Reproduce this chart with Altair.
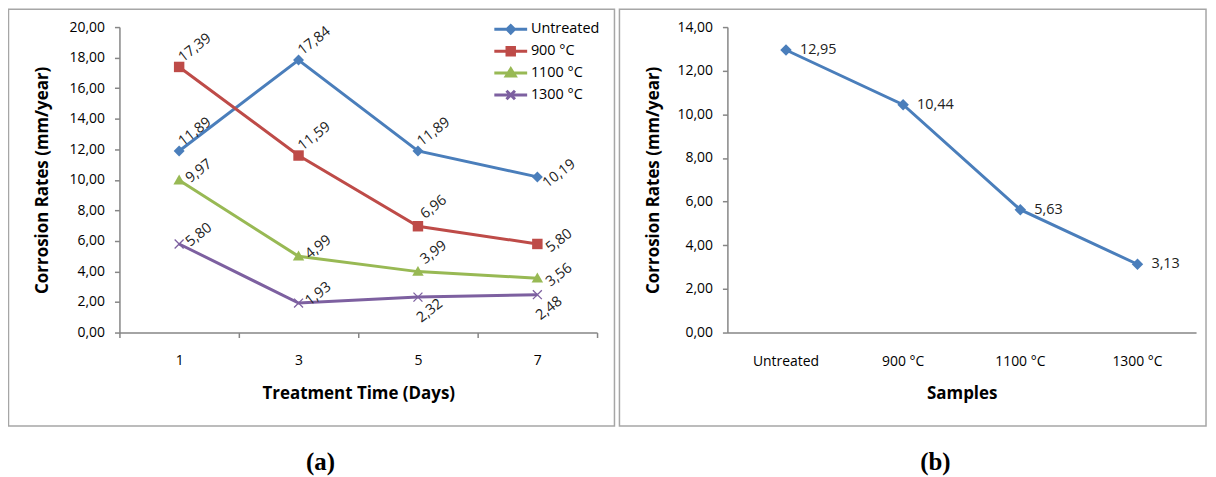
import altair as alt
import pandas as pd

# ---------------- data ----------------
days = ["1", "3", "5", "7"]
series = ["Untreated", "900 °C", "1100 °C", "1300 °C"]
untreated = [11.89, 17.84, 11.89, 10.19]
t900 = [17.39, 11.59, 6.96, 5.80]
t1100 = [9.97, 4.99, 3.99, 3.56]
t1300 = [5.80, 1.93, 2.32, 2.48]

samples = ["Untreated", "900 °C", "1100 °C", "1300 °C"]
avg_rates = [12.95, 10.44, 5.63, 3.13]

y_ticks_a = [0, 2, 4, 6, 8, 10, 12, 14, 16, 18, 20]
y_ticks_b = [0, 2, 4, 6, 8, 10, 12, 14]
captions = ["(a)", "(b)"]

colors = ["#4A7EBB", "#BE4B48", "#98B954", "#7D60A0"]
FONT = "Open Sans"

rows = []
for s, vals in zip(series, [untreated, t900, t1100, t1300]):
    for d, v in zip(days, vals):
        rows.append({"series": s, "day": d, "v": v})
df_a = pd.DataFrame(rows)
df_b = pd.DataFrame({"sample": samples, "v": avg_rates})

# marker shapes (unit coords, scaled by sqrt(size)/2)
m_diamond = "M0,-1.1L1.1,0L0,1.1L-1.1,0Z"
m_square = "M-1.05,-1.05L1.05,-1.05L1.05,1.05L-1.05,1.05Z"
m_triangle = "M0,-1.15L1.15,0.85L-1.15,0.85Z"
m_x = "M-0.9,-0.9L0.9,0.9M-0.9,0.9L0.9,-0.9"
markers = [m_diamond, m_square, m_triangle, m_x]

# legend shapes: line segment + small marker
l_diamond = "M-3.3,0L3.3,0M0,-0.75L0.75,0L0,0.75L-0.75,0Z"
l_square = "M-3.3,0L3.3,0M-0.75,-0.75L0.75,-0.75L0.75,0.75L-0.75,0.75Z"
l_triangle = "M-3.3,0L3.3,0M0,-0.85L0.9,0.6L-0.9,0.6Z"
l_x = "M-3.3,0L3.3,0M-0.85,-0.85L0.85,0.85M-0.85,0.85L0.85,-0.85"
leg_paths = [l_diamond, l_square, l_triangle, l_x]


def case_expr(values):
    expr = "'" + values[-1] + "'"
    for s, p in reversed(list(zip(series[:-1], values[:-1]))):
        expr = "datum.value === '" + s + "' ? '" + p + "' : " + expr
    return expr


label_fmt = "replace(format(datum.value, '.2f'), '.', ',')"

W_A, W_B, H = 480, 471, 307

color_scale = alt.Scale(domain=series, range=colors)
color_enc = alt.Color(
    "series:N",
    scale=color_scale,
    legend=alt.Legend(
        title=None,
        orient="none",
        legendX=386,
        legendY=-5,
        padding=0,
        symbolSize=100,
        symbolType={"expr": case_expr(leg_paths)},
        symbolFillColor={"expr": case_expr(colors)},
        symbolStrokeColor={"expr": case_expr(colors)},
        symbolStrokeWidth=3,
        symbolOpacity=1,
        labelOffset=13,
        rowPadding=2,
        labelFont=FONT,
        labelFontSize=14.5,
        labelColor="#000000",
    ),
)

x_a = alt.X(
    "day:N",
    sort=days,
    scale=alt.Scale(type="band", paddingInner=0, paddingOuter=0),
    axis=alt.Axis(
        title="Treatment Time (Days)",
        labelAngle=0,
        tickBand="extent",
        tickSize=5,
        labelPadding=23,
        labelBaseline="middle",
        titleX=240,
        titleY=61,
        titleBaseline="middle",
        titleAlign="center",
    ),
)
y_a = alt.Y(
    "v:Q",
    scale=alt.Scale(domain=[0, 20], nice=False),
    axis=alt.Axis(
        values=y_ticks_a,
        labelExpr=label_fmt,
        title="Corrosion Rates (mm/year)",
        titleX=-77,
        titleY=153.5,
        titleAngle=270,
        titleAlign="center",
        titleBaseline="middle",
        tickSize=5,
        labelPadding=10,
    ),
)

base_a = alt.Chart(df_a)
line_a = base_a.mark_line(strokeWidth=3).encode(x=x_a, y=y_a, color=color_enc)

point_layers = []
for i, s in enumerate(series):
    filled = i < 3
    point_layers.append(
        base_a.transform_filter(alt.datum.series == s)
        .mark_point(
            shape=markers[i],
            filled=filled,
            size=100,
            opacity=1,
            strokeWidth=1.3,
        )
        .encode(x=x_a, y=y_a, color=alt.Color("series:N", scale=color_scale))
    )

lbl_base = base_a.transform_calculate(lbl="replace(format(datum.v, '.2f'), '.', ',')")
is_right = "(datum.day === '7' && datum.series !== '1300 °C')"
is_below = "(datum.series === '1300 °C' && (datum.day === '5' || datum.day === '7'))"
is_low = "((datum.series === '1100 °C' || datum.series === '1300 °C') && (datum.day === '1' || datum.day === '3'))"
is_default = "!(" + is_right + " || " + is_below + " || " + is_low + ")"


def label_layer(cond, xo, yo):
    return lbl_base.transform_filter(cond).mark_text(
        angle=322,
        align="center",
        baseline="middle",
        font=FONT,
        fontSize=14.5,
        color="#222222",
        xOffset=xo,
        yOffset=yo,
    ).encode(x=x_a, y=y_a, text="lbl:N")


labels_a = [
    label_layer(is_default, 16, -19),
    label_layer(is_low, 20, -9),
    label_layer(is_right, 22, -3),
    label_layer(is_below, 12, 14),
]

one = pd.DataFrame({"k": [0]})
border_a = alt.Chart(one).mark_rect(
    fillOpacity=0, stroke="#A6A6A6", strokeWidth=1.5
).encode(x=alt.value(-111.5), x2=alt.value(497.5), y=alt.value(-18), y2=alt.value(401))
cap_a = alt.Chart(one).mark_text(
    font="Liberation Serif", fontWeight="bold", fontSize=25, color="#000000"
).encode(x=alt.value(202), y=alt.value(437), text=alt.value(captions[0]))

panel_a = alt.layer(border_a, line_a, *point_layers, *labels_a, cap_a).properties(
    width=W_A, height=H
)

# ---------------- panel b ----------------
x_b = alt.X(
    "sample:N",
    sort=samples,
    scale=alt.Scale(type="band", paddingInner=0, paddingOuter=0),
    axis=alt.Axis(
        title="Samples",
        labelAngle=0,
        ticks=False,
        tickSize=0,
        labelPadding=29,
        labelBaseline="middle",
        titleX=235.5,
        titleY=61,
        titleBaseline="middle",
        titleAlign="center",
    ),
)
y_b = alt.Y(
    "v:Q",
    scale=alt.Scale(domain=[0, 14], nice=False),
    axis=alt.Axis(
        values=y_ticks_b,
        labelExpr=label_fmt,
        title="Corrosion Rates (mm/year)",
        titleX=-74,
        titleY=153.5,
        titleAngle=270,
        titleAlign="center",
        titleBaseline="middle",
        tickSize=5,
        labelPadding=10,
    ),
)
base_b = alt.Chart(df_b)
line_b = base_b.mark_line(strokeWidth=3, color=colors[0]).encode(x=x_b, y=y_b)
pts_b = base_b.mark_point(
    filled=True, size=110, opacity=1, shape=m_diamond, color=colors[0]
).encode(x=x_b, y=y_b)
lbl_b = base_b.transform_calculate(
    lbl="replace(format(datum.v, '.2f'), '.', ',')"
).mark_text(
    align="left", baseline="middle", dx=14, font=FONT, fontSize=14.5, color="#222222"
).encode(x=x_b, y=y_b, text="lbl:N")

border_b = alt.Chart(one).mark_rect(
    fillOpacity=0, stroke="#A6A6A6", strokeWidth=1.5
).encode(x=alt.value(-108.5), x2=alt.value(481), y=alt.value(-18), y2=alt.value(401))
cap_b = alt.Chart(one).mark_text(
    font="Liberation Serif", fontWeight="bold", fontSize=25, color="#000000"
).encode(x=alt.value(209), y=alt.value(437), text=alt.value(captions[1]))

panel_b = alt.layer(border_b, line_b, pts_b, lbl_b, cap_b).properties(width=W_B, height=H)

chart = (
    alt.hconcat(panel_a, panel_b, spacing=131, bounds="flush")
    .properties(padding={"left": -1, "top": -2, "right": 0, "bottom": 0})
    .configure_view(stroke="transparent")
    .configure_axis(
        grid=False,
        domainColor="#868686",
        domainWidth=1.5,
        tickColor="#868686",
        tickWidth=1.5,
        labelFont=FONT,
        labelFontSize=14,
        labelColor="#000000",
        titleFont=FONT,
        titleFontSize=17,
        titleFontWeight="bold",
        titleColor="#000000",
    )
)

chart.save("out.html", embed_options={"renderer": "svg", "actions": False})
